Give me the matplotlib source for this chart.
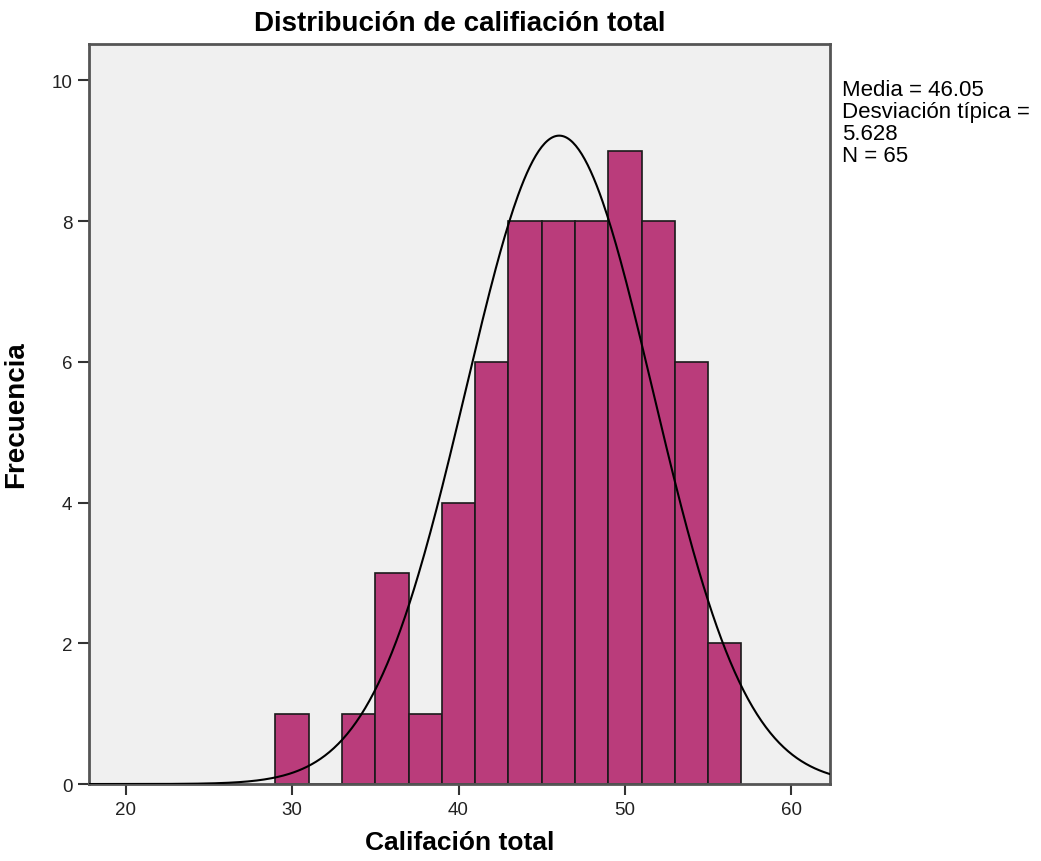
import numpy as np
import matplotlib
matplotlib.use("Agg")
import matplotlib.pyplot as plt

plt.rcParams['font.family'] = ['Liberation Sans', 'DejaVu Sans']

bin_edges = [29, 31, 33, 35, 37, 39, 41, 43, 45, 47, 49, 51, 53, 55, 57]
counts = [1, 0, 1, 3, 1, 4, 6, 8, 8, 8, 9, 8, 6, 2]
media = 46.05
desv = 5.628
n_total = 65
x_ticks = [20, 30, 40, 50, 60]
y_ticks = [0, 2, 4, 6, 8, 10]

fig = plt.figure(figsize=(10.41, 8.62), dpi=100)
ax = fig.add_axes([0.0855, 0.0893, 0.7115, 0.8587])
ax.set_facecolor('#F0F0F0')

lefts = bin_edges[:-1]
widths = np.diff(bin_edges)
ax.bar(lefts, counts, width=widths, align='edge', color='#BA3C7B',
       edgecolor='#1a1a1a', linewidth=1.2, zorder=2)

xs = np.linspace(17.8, 62.3, 500)
bw = 2
ys = n_total * bw / (desv * np.sqrt(2 * np.pi)) * np.exp(-0.5 * ((xs - media) / desv) ** 2)
ax.plot(xs, ys, color='black', linewidth=1.5, zorder=3)

ax.set_xlim(17.8, 62.3)
ax.set_ylim(0, 10.52)
ax.set_xticks(x_ticks)
ax.set_yticks(y_ticks)
ax.tick_params(axis='both', direction='out', length=8, width=1.5, color='#333333',
               labelsize=13.5, pad=4, labelcolor='#222222')
for s in ax.spines.values():
    s.set_color('#555555')
    s.set_linewidth(2)

ax.set_title('Distribución de califiación total', fontsize=20, fontweight='bold', pad=10)
ax.set_xlabel('Califación total', fontsize=19, fontweight='bold', labelpad=9)
ax.set_ylabel('Frecuencia', fontsize=20, fontweight='bold', labelpad=16)

fig.text(0.809, 0.907, 'Media = 46.05\nDesviación típica =\n5.628\nN = 65',
         fontsize=16, va='top', ha='left', linespacing=1.05)

fig.savefig('out.png', dpi=100)
